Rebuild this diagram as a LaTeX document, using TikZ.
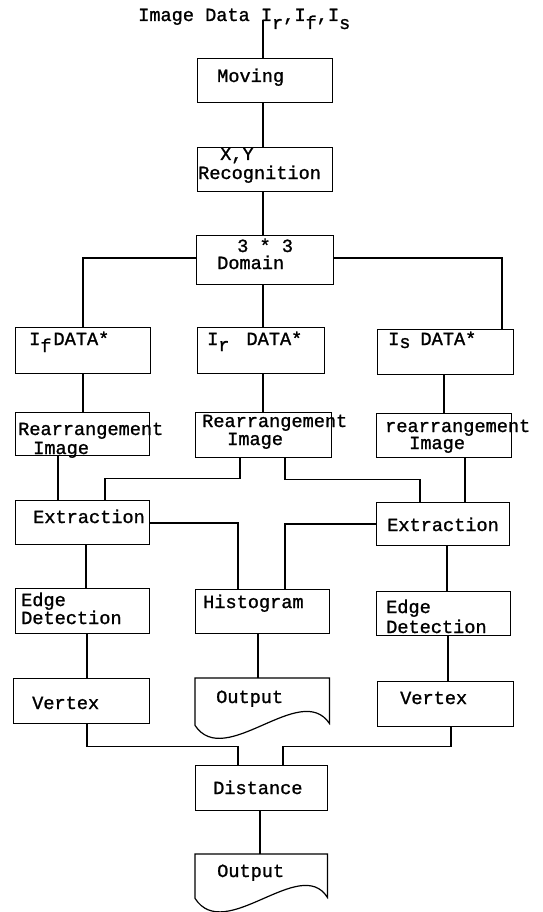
\documentclass[tikz,border=0pt]{standalone}
\usepackage{fontspec}
\newfontfamily\dotfont{Liberation Mono}[FakeBold=1.2]
\usetikzlibrary{calc}
\newcommand{\lw}[2][7pt]{\raisebox{-#1}{#2}}
\begin{document}
\begin{tikzpicture}[x=1pt,y=-1pt,
  ln/.style={line width=1.2pt, line join=miter},
  box/.style={draw, line width=1.2pt, inner sep=0pt, anchor=north west},
  ghost/.style={inner sep=0pt, anchor=north west},
  txt/.style={inner sep=0pt, anchor=base west, font=\dotfont\fontsize{18.6}{20}\selectfont}]
\useasboundingbox (0,0) rectangle (542,912);

% boxes
\node[box, minimum width=135, minimum height=44] (moving) at (197,58) {};
\node[box, minimum width=135, minimum height=44] (xy) at (197,147) {};
\node[box, minimum width=137, minimum height=49] (domain) at (196,235) {};
\node[box, minimum width=135, minimum height=46] (If) at (15,327) {};
\node[box, minimum width=127, minimum height=46] (Ir) at (197,327) {};
\node[box, minimum width=136, minimum height=45] (Is) at (377,329) {};
\node[box, minimum width=134, minimum height=43] (rearL) at (15,412) {};
\node[box, minimum width=136, minimum height=45] (rearM) at (195,412) {};
\node[box, minimum width=135, minimum height=44] (rearR) at (376,413) {};
\node[box, minimum width=134, minimum height=44] (extL) at (15,500) {};
\node[box, minimum width=133, minimum height=43] (extR) at (376,502) {};
\node[box, minimum width=134, minimum height=45] (edgeL) at (15,588) {};
\node[box, minimum width=134, minimum height=44] (hist) at (195,589) {};
\node[box, minimum width=134, minimum height=44] (edgeR) at (376,591) {};
\node[box, minimum width=136, minimum height=45] (vertL) at (13,678) {};
\node[box, minimum width=136, minimum height=45] (vertR) at (377,681) {};
\node[box, minimum width=132, minimum height=45] (dist) at (195,765) {};
\node[ghost, minimum width=134, minimum height=45] (outM) at (195,678) {};
\node[ghost, minimum width=132, minimum height=43] (outB) at (195,854) {};

% document shapes
\draw[ln] (outM.north west) -- (outM.north east) -- (outM.south east)
  .. controls ($(outM.south east)+(-29,-43)$) and ($(outM.south west)+(30,47)$) .. ($(outM.south west)+(0,2)$) -- cycle;
\draw[ln] (outB.north west) -- (outB.north east) -- (outB.south east)
  .. controls ($(outB.south east)+(-27,-43)$) and ($(outB.south west)+(30,47)$) .. ($(outB.south west)+(0,1)$) -- cycle;

% texts
\node[txt] (title) at (138,21) {Image Data I\lw[8pt]{r},I\lw[8pt]{f},I\lw[8pt]{s}};
\node[txt] (tmov) at (217,82) {Moving};
\node[txt] (txy) at (220,160) {X,Y};
\node[txt] (trec) at (198,179) {Recognition};
\node[txt] (t33) at (237,252) {3 * 3};
\node[txt] (tdom) at (217,269) {Domain};
\node[txt] (tIf) at (29,345) {I\lw{f}\hspace{2pt}DATA*};
\node[txt] (tIr) at (207,345) {I\lw[6pt]{r}\hspace{17pt}DATA*};
\node[txt] (tIs) at (388,345) {I\lw[3pt]{s}\hspace{10pt}DATA*};
\node[txt] (trearL1) at (18,435) {Rearrangement};
\node[txt] (trearL2) at (33,454) {Image};
\node[txt] (trearM1) at (202,427) {Rearrangement};
\node[txt] (trearM2) at (227,445) {Image};
\node[txt] (trearR1) at (385,432) {rearrangement};
\node[txt] (trearR2) at (409,449) {Image};
\node[txt] (textL) at (33,523) {Extraction};
\node[txt] (textR) at (387,531) {Extraction};
\node[txt] (tedgeL1) at (21,606) {Edge};
\node[txt] (tedgeL2) at (21,624) {Detection};
\node[txt] (thist) at (203,608) {Histogram};
\node[txt] (tedgeR1) at (386,613) {Edge};
\node[txt] (tedgeR2) at (386,633) {Detection};
\node[txt] (tvertL) at (32,709) {Vertex};
\node[txt] (tvertR) at (400,704) {Vertex};
\node[txt] (toutM) at (216,703) {Output};
\node[txt] (tdist) at (213,794) {Distance};
\node[txt] (toutB) at (217,877) {Output};

% connectors
\coordinate (tin) at (263,20);
\draw[ln] (tin) -- (tin |- moving.north);
\draw[ln] (moving.south -| tin) -- (xy.north -| tin);
\draw[ln] (xy.south -| tin) -- (domain.north -| tin);
\draw[ln] ($(domain.north west)+(0,23)$) -| ($(If.north west)+(68,0)$);
\draw[ln] (domain.south -| tin) -- (Ir.north -| tin);
\draw[ln] ($(domain.north east)+(0,23)$) -| ($(Is.north west)+(125,0)$);
\draw[ln] ($(If.south west)+(68,0)$) -- ($(rearL.north west)+(68,0)$);
\draw[ln] (Ir.south -| tin) -- (rearM.north -| tin);
\draw[ln] ($(Is.south west)+(67,0)$) -- ($(rearR.north west)+(68,0)$);
\draw[ln] ($(rearL.south west)+(43,0)$) -- ($(extL.north west)+(43,0)$);
\draw[ln] ($(rearM.south west)+(45,0)$) -- ++(0,20) -| ($(extL.north west)+(90,0)$);
\draw[ln] ($(rearM.south west)+(90,0)$) -- ++(0,21) -| ($(extR.north west)+(44,0)$);
\draw[ln] ($(rearR.south west)+(89,0)$) -- ($(extR.north west)+(89,0)$);
\draw[ln] ($(extL.north east)+(0,23)$) -| ($(hist.north west)+(43,0)$);
\draw[ln] ($(extR.north west)+(0,22)$) -| ($(hist.north west)+(90,0)$);
\draw[ln] ($(extL.south west)+(71,0)$) -- ($(edgeL.north west)+(71,0)$);
\draw[ln] ($(extR.south west)+(71,0)$) -- ($(edgeR.north west)+(71,0)$);
\draw[ln] ($(edgeL.south west)+(72,0)$) -- ($(vertL.north west)+(74,0)$);
\draw[ln] ($(hist.south west)+(63,0)$) -- ($(outM.north west)+(63,0)$);
\draw[ln] ($(edgeR.south west)+(72,0)$) -- ($(vertR.north west)+(71,0)$);
\draw[ln] ($(vertL.south west)+(74,0)$) -- ++(0,22) -| ($(dist.north west)+(43,0)$);
\draw[ln] ($(vertR.south west)+(74,0)$) -- ++(0,19) -| ($(dist.north west)+(88,0)$);
\draw[ln] ($(dist.south west)+(65,0)$) -- ($(outB.north west)+(65,0)$);
\end{tikzpicture}
\end{document}
